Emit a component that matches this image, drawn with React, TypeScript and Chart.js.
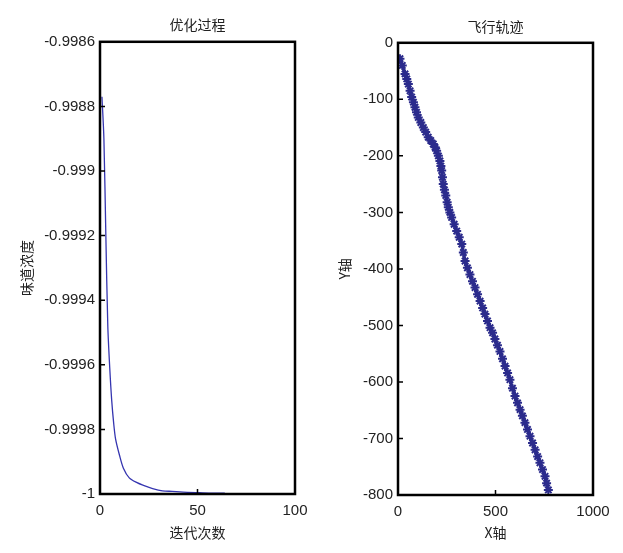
import React, { useEffect, useRef } from "react";
import { Chart, registerables } from "chart.js";
Chart.register(...registerables);

// Left plot: optimisation process (iterations vs. concentration)
const ITER_X = [1, 2, 3, 4, 5, 6, 7, 8, 10, 12, 15, 19, 23, 27, 32, 37, 45, 51, 58, 64];
const CONC_Y = [
  -0.99877, -0.9989, -0.9992, -0.99948, -0.99961, -0.99971, -0.99978, -0.99983, -0.99988, -0.99992,
  -0.99995, -0.999965, -0.999975, -0.999983, -0.99999, -0.999992, -0.999995, -0.999996, -0.999997, -0.999997,
];
const LEFT_X_TICKS = [0, 50, 100];
const LEFT_Y_TICKS = [-1, -0.9998, -0.9996, -0.9994, -0.9992, -0.999, -0.9988, -0.9986];

// Right plot: flight trajectory
const PATH_X = [
  10, 22, 36, 45, 53, 62, 70, 79, 87, 95, 104, 117, 130, 142, 155, 168, 181, 190, 198, 207, 215, 220, 224, 228,
  232, 238, 245, 252, 258, 266, 275, 288, 301, 314, 327, 335, 344, 356, 369, 382, 395, 408, 421, 434, 446, 459,
  472, 485, 497, 510, 523, 536, 549, 562, 574, 587, 600, 613, 626, 638, 651, 664, 677, 690, 703, 716, 728, 741,
  754, 762, 771,
];
const PATH_Y = [
  -28, -40, -55, -64, -73, -85, -96, -105, -114, -123, -132, -141, -150, -158, -167, -173, -179, -185, -191, -200,
  -209, -218, -226, -238, -250, -260, -270, -282, -291, -300, -309, -321, -333, -344, -356, -371, -386, -398, -410,
  -422, -433, -445, -457, -469, -480, -492, -504, -513, -524, -535, -546, -559, -572, -584, -596, -611, -625, -637,
  -649, -660, -672, -684, -696, -708, -720, -732, -743, -755, -767, -779, -791,
];
const RIGHT_X_TICKS = [0, 500, 1000];
const RIGHT_Y_TICKS = [-800, -700, -600, -500, -400, -300, -200, -100, 0];

const NUM_FONT = "'Liberation Sans', Arial, 'Noto Sans CJK SC', sans-serif";
const CJK_FONT = "'Noto Sans CJK SC', 'Liberation Sans', sans-serif";
const TEXT = "#222";

const framePlugin = {
  id: "frame",
  afterDraw(chart: any) {
    const { ctx, chartArea: a, scales } = chart;
    ctx.save();
    ctx.strokeStyle = "#000";
    ctx.lineWidth = 1.5;
    ctx.beginPath();
    scales.x.ticks.forEach((t: any) => {
      const px = scales.x.getPixelForValue(t.value);
      ctx.moveTo(px, a.bottom);
      ctx.lineTo(px, a.bottom - 5);
    });
    scales.y.ticks.forEach((t: any) => {
      const py = scales.y.getPixelForValue(t.value);
      ctx.moveTo(a.left, py);
      ctx.lineTo(a.left + 5, py);
    });
    ctx.stroke();
    ctx.lineWidth = 2.5;
    ctx.strokeRect(a.left, a.top, a.right - a.left, a.bottom - a.top);
    ctx.restore();
  },
};

function makeScales(opts: {
  xTicks: number[];
  yTicks: number[];
  xTitle: string;
  yTitle: string;
  yWidth: number;
  xHeight: number;
  yTitlePad: number;
}) {
  const tickFont = { family: NUM_FONT, size: 15 };
  return {
    x: {
      type: "linear" as const,
      min: opts.xTicks[0],
      max: opts.xTicks[opts.xTicks.length - 1],
      afterBuildTicks: (s: any) => {
        s.ticks = opts.xTicks.map((v) => ({ value: v }));
      },
      afterFit: (s: any) => {
        s.height = opts.xHeight;
        s.paddingLeft = 0;
        s.paddingRight = 0;
      },
      grid: { display: false, drawTicks: false },
      border: { display: false },
      ticks: {
        color: TEXT,
        font: tickFont,
        padding: 8,
        maxRotation: 0,
        autoSkip: false,
        callback: (v: any) => String(v),
      },
      title: {
        display: true,
        text: opts.xTitle,
        color: TEXT,
        font: { family: CJK_FONT, size: 14 },
        padding: { top: 0, bottom: 12 },
      },
    },
    y: {
      type: "linear" as const,
      min: opts.yTicks[0],
      max: opts.yTicks[opts.yTicks.length - 1],
      afterBuildTicks: (s: any) => {
        s.ticks = opts.yTicks.map((v) => ({ value: v }));
      },
      afterFit: (s: any) => {
        s.width = opts.yWidth;
        s.paddingTop = 0;
        s.paddingBottom = 0;
      },
      grid: { display: false, drawTicks: false },
      border: { display: false },
      ticks: {
        color: TEXT,
        font: tickFont,
        padding: 5,
        autoSkip: false,
        callback: (v: any) => String(v),
      },
      title: {
        display: true,
        text: opts.yTitle,
        color: TEXT,
        font: { family: CJK_FONT, size: 14 },
        padding: { top: opts.yTitlePad, bottom: 0 },
      },
    },
  };
}

export default function App() {
  const leftRef = useRef<HTMLCanvasElement>(null);
  const rightRef = useRef<HTMLCanvasElement>(null);

  useEffect(() => {
    const left = new Chart(leftRef.current!, {
      type: "scatter",
      data: {
        datasets: [
          {
            data: ITER_X.map((x, i) => ({ x, y: CONC_Y[i] })),
            showLine: true,
            borderColor: "#3535b0",
            backgroundColor: "#3535b0",
            borderWidth: 1.3,
            pointRadius: 0,
            tension: 0.3,
          },
        ],
      },
      options: {
        responsive: false,
        animation: false,
        layout: { padding: { left: 0, top: 16, right: 17, bottom: 0 } },
        plugins: {
          legend: { display: false },
          tooltip: { enabled: false },
          title: {
            display: true,
            text: "优化过程",
            fullSize: false,
            color: TEXT,
            font: { family: CJK_FONT, size: 14, weight: "normal" },
            padding: { top: 0, bottom: 9 },
          },
        },
        scales: makeScales({
          xTicks: LEFT_X_TICKS,
          yTicks: LEFT_Y_TICKS,
          xTitle: "迭代次数",
          yTitle: "味道浓度",
          yWidth: 100,
          xHeight: 59,
          yTitlePad: 18,
        }) as any,
      },
      plugins: [framePlugin],
    });

    const right = new Chart(rightRef.current!, {
      type: "scatter",
      data: {
        datasets: [
          {
            data: PATH_X.map((x, i) => ({ x, y: PATH_Y[i] })),
            showLine: true,
            borderColor: "#2b2b8c",
            backgroundColor: "#2b2b8c",
            borderWidth: 3,
            pointStyle: "star",
            pointRadius: 4.5,
            pointBorderWidth: 2,
            pointBorderColor: "#2b2b8c",
            tension: 0,
          },
        ],
      },
      options: {
        responsive: false,
        animation: false,
        layout: { padding: { left: 0, top: 18, right: 30, bottom: 0 } },
        plugins: {
          legend: { display: false },
          tooltip: { enabled: false },
          title: {
            display: true,
            text: "飞行轨迹",
            fullSize: false,
            color: TEXT,
            font: { family: CJK_FONT, size: 14, weight: "normal" },
            padding: { top: 0, bottom: 8 },
          },
        },
        scales: makeScales({
          xTicks: RIGHT_X_TICKS,
          yTicks: RIGHT_Y_TICKS,
          xTitle: "X轴",
          yTitle: "Y轴",
          yWidth: 86,
          xHeight: 58,
          yTitlePad: 24,
        }) as any,
      },
      plugins: [framePlugin],
    });

    return () => {
      left.destroy();
      right.destroy();
    };
  }, []);

  return (
    <div style={{ position: "absolute", left: 0, top: 0, width: 623, height: 553, background: "#fff" }}>
      <canvas ref={leftRef} width={312} height={553} style={{ position: "absolute", left: 0, top: 0 }} />
      <canvas ref={rightRef} width={311} height={553} style={{ position: "absolute", left: 312, top: 0 }} />
    </div>
  );
}
